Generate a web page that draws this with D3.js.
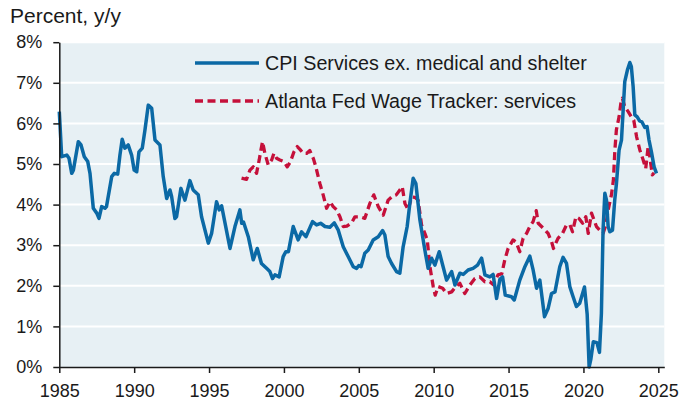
<!DOCTYPE html>
<html>
<head>
<meta charset="utf-8">
<script src="https://cdn.jsdelivr.net/npm/d3@7"></script>
<style>
  body { margin: 0; background: #fff; }
  svg { display: block; font-family: "Liberation Sans", Arial, sans-serif; }
</style>
</head>
<body>
<svg id="chart" width="695" height="403"></svg>
<script>
/* global d3 */

// CPI services ex. medical and shelter, % y/y
var cpiDates = [1985.0, 1985.16, 1985.5, 1985.65, 1985.83, 1985.94, 1986.27, 1986.45, 1986.67, 1986.9,
    1987.05, 1987.27, 1987.5, 1987.65, 1987.83, 1988.05, 1988.15, 1988.5, 1988.67, 1988.9,
    1989.05, 1989.2, 1989.38, 1989.6, 1989.83, 1990.0, 1990.17, 1990.32, 1990.54, 1990.72,
    1990.94, 1991.17, 1991.39, 1991.72, 1991.94, 1992.17, 1992.39, 1992.5, 1992.72, 1992.83,
    1993.12, 1993.39, 1993.72, 1993.94, 1994.28, 1994.5, 1994.95, 1995.17, 1995.5, 1995.68,
    1995.84, 1996.4, 1996.73, 1997.06, 1997.18, 1997.3, 1997.62, 1997.95, 1998.22, 1998.5,
    1998.84, 1999.06, 1999.24, 1999.4, 1999.68, 1999.95, 2000.13, 2000.3, 2000.62, 2000.95,
    2001.18, 2001.47, 2001.91, 2002.18, 2002.45, 2002.74, 2003.07, 2003.36, 2003.63, 2003.96,
    2004.29, 2004.63, 2004.85, 2005.0, 2005.15, 2005.4, 2005.63, 2005.96, 2006.3, 2006.59,
    2006.74, 2006.96, 2007.19, 2007.52, 2007.74, 2007.96, 2008.23, 2008.41, 2008.63, 2008.81,
    2009.08, 2009.41, 2009.63, 2009.86, 2010.08, 2010.37, 2010.63, 2010.86, 2011.2, 2011.42,
    2011.75, 2011.97, 2012.3, 2012.63, 2012.93, 2013.2, 2013.42, 2013.75, 2013.97, 2014.2,
    2014.42, 2014.6, 2014.78, 2015.2, 2015.38, 2015.75, 2016.09, 2016.42, 2016.64, 2016.87,
    2017.09, 2017.4, 2017.64, 2017.87, 2018.1, 2018.42, 2018.64, 2018.87, 2019.09, 2019.31,
    2019.53, 2019.75, 2020.07, 2020.25, 2020.38, 2020.5, 2020.66, 2020.9, 2021.07, 2021.2,
    2021.31, 2021.43, 2021.54, 2021.65, 2021.76, 2021.94, 2022.09, 2022.2, 2022.38, 2022.54,
    2022.76, 2022.94, 2023.1, 2023.2, 2023.32, 2023.43, 2023.59, 2023.75, 2023.9, 2024.1,
    2024.25, 2024.38, 2024.54, 2024.72, 2024.88];
var cpiValues = [6.29, 5.18, 5.22, 5.14, 4.77, 4.85, 5.55, 5.47, 5.18, 5.06,
    4.77, 3.91, 3.79, 3.66, 3.95, 3.91, 3.95, 4.69, 4.77, 4.75,
    5.22, 5.61, 5.39, 5.47, 5.22, 4.85, 4.81, 5.30, 5.39, 5.84,
    6.45, 6.37, 5.59, 5.47, 4.69, 4.15, 4.36, 4.2, 3.66, 3.70,
    4.40, 4.11, 4.59, 4.36, 4.24, 3.70, 3.05, 3.29, 4.07, 3.87,
    3.97, 2.92, 3.46, 3.87, 3.54, 3.57, 3.21, 2.64, 2.92, 2.55,
    2.43, 2.35, 2.18, 2.27, 2.22, 2.72, 2.84, 2.84, 3.46, 3.13,
    3.33, 3.21, 3.58, 3.50, 3.54, 3.46, 3.44, 3.55, 3.37, 2.96,
    2.72, 2.47, 2.43, 2.50, 2.47, 2.80, 2.88, 3.13, 3.21, 3.36,
    3.25, 2.72, 2.55, 2.35, 2.31, 2.96, 3.46, 4.03, 4.65, 4.52,
    3.62, 2.88, 2.43, 2.68, 2.51, 2.84, 2.47, 2.14, 2.35, 2.02,
    2.31, 2.28, 2.39, 2.43, 2.51, 2.68, 2.27, 2.22, 2.28, 1.69,
    2.16, 2.22, 1.77, 1.73, 1.65, 2.14, 2.47, 2.73, 2.39, 1.94,
    2.14, 1.24, 1.44, 1.81, 1.85, 2.47, 2.70, 2.55, 1.98, 1.73,
    1.49, 1.57, 1.97, 1.30, 0.0, 0.2, 0.62, 0.60, 0.36, 1.32,
    3.37, 4.28, 4.11, 3.46, 3.33, 3.37, 4.11, 4.5, 5.34, 5.59,
    7.03, 7.32, 7.50, 7.40, 6.90, 6.21, 6.16, 6.06, 6.04, 5.90,
    5.92, 5.59, 5.30, 4.93, 4.77];

// Atlanta Fed Wage Tracker: services, % y/y
var wageDates = [1997.17, 1997.5, 1997.73, 1997.95, 1998.17, 1998.35, 1998.46, 1998.57, 1998.73, 1998.95,
    1999.18, 1999.33, 1999.51, 1999.73, 2000.0, 2000.22, 2000.44, 2000.67, 2000.89, 2001.07,
    2001.29, 2001.51, 2001.73, 2001.96, 2002.13, 2002.4, 2002.62, 2002.85, 2003.07, 2003.29,
    2003.52, 2003.74, 2003.96, 2004.2, 2004.52, 2004.74, 2005.07, 2005.4, 2005.74, 2006.0,
    2006.3, 2006.63, 2006.96, 2007.26, 2007.5, 2007.74, 2007.9, 2008.08, 2008.3, 2008.52,
    2008.75, 2008.96, 2009.19, 2009.41, 2009.57, 2009.75, 2009.97, 2010.1, 2010.3, 2010.6,
    2010.86, 2011.2, 2011.48, 2011.75, 2012.08, 2012.42, 2012.75, 2013.08, 2013.42, 2013.75,
    2013.97, 2014.3, 2014.55, 2014.75, 2014.97, 2015.3, 2015.5, 2015.75, 2015.97, 2016.2,
    2016.42, 2016.64, 2016.85, 2016.98, 2017.2, 2017.42, 2017.64, 2017.87, 2018.0, 2018.3,
    2018.6, 2018.87, 2019.1, 2019.27, 2019.5, 2019.7, 2019.95, 2020.16, 2020.32, 2020.54,
    2020.87, 2021.09, 2021.31, 2021.5, 2021.65, 2021.87, 2022.0, 2022.1, 2022.2, 2022.38,
    2022.5, 2022.6, 2022.76, 2022.99, 2023.2, 2023.36, 2023.55, 2023.77, 2023.99, 2024.16,
    2024.32, 2024.43, 2024.6, 2024.72];
var wageValues = [4.65, 4.62, 4.85, 4.93, 4.77, 5.10, 5.34, 5.55, 5.26, 4.98,
    5.10, 5.26, 5.14, 5.10, 5.06, 4.93, 5.06, 5.30, 5.43, 5.36,
    5.26, 5.26, 5.33, 5.14, 4.93, 4.52, 4.24, 3.91, 4.07, 3.95,
    3.87, 3.70, 3.46, 3.47, 3.55, 3.70, 3.70, 3.66, 4.03, 4.24,
    3.95, 3.74, 4.11, 4.21, 4.24, 4.36, 4.44, 4.03, 3.87, 4.19,
    4.18, 4.11, 3.50, 3.29, 3.13, 2.47, 1.98, 1.77, 1.98, 1.94,
    1.81, 1.85, 1.98, 2.06, 1.81, 2.02, 2.18, 2.22, 2.10, 2.10,
    2.03, 2.27, 2.30, 2.64, 2.92, 3.13, 3.08, 2.84, 3.17, 3.29,
    3.46, 3.58, 3.85, 3.54, 3.46, 3.38, 3.29, 3.09, 2.92, 3.17,
    3.29, 3.50, 3.50, 3.33, 3.70, 3.66, 3.54, 3.70, 3.29, 3.79,
    3.46, 3.37, 3.29, 3.50, 3.87, 4.24, 4.6, 5.34, 5.84, 6.16,
    6.5, 6.62, 6.41, 6.29, 6.16, 6.08, 5.67, 5.34, 5.10, 4.89,
    5.43, 5.18, 4.73, 4.78];

var xTicks = [1985, 1990, 1995, 2000, 2005, 2010, 2015, 2020, 2025];
var yTicks = [0, 1, 2, 3, 4, 5, 6, 7, 8];
var seriesNames = ["CPI Services ex. medical and shelter", "Atlanta Fed Wage Tracker: services"];

var blue = "#0b69a5";
var red = "#c5103a";
var ink = "#1a1a1a";
var dash = "8,4.5";

var svg = d3.select("#chart");

var x = d3.scaleLinear().domain([1985, 2025.4]).range([59.3, 664.3]);
var y = d3.scaleLinear().domain([0, 8]).range([367, 42.2]);

// plot background
svg.append("rect")
    .attr("x", x.range()[0])
    .attr("y", y(8))
    .attr("width", x.range()[1] - x.range()[0])
    .attr("height", y(0) - y(8))
    .attr("fill", "#e7f0f4");

// gridlines
svg.append("g")
    .selectAll("line")
    .data(yTicks.slice(1))
    .join("line")
    .attr("x1", x.range()[0])
    .attr("x2", x.range()[1])
    .attr("y1", function (d) { return y(d); })
    .attr("y2", function (d) { return y(d); })
    .attr("stroke", "#fff")
    .attr("stroke-width", 2);

var line = function (dates, values) {
    return d3.line()
        .x(function (d, i) { return x(dates[i]); })
        .y(function (d) { return y(d); })(values);
};

svg.append("path")
    .attr("d", line(wageDates, wageValues))
    .attr("fill", "none")
    .attr("stroke", red)
    .attr("stroke-width", 3.3)
    .attr("stroke-dasharray", dash)
    .attr("stroke-linejoin", "round");

svg.append("path")
    .attr("d", line(cpiDates, cpiValues))
    .attr("fill", "none")
    .attr("stroke", blue)
    .attr("stroke-width", 3.5)
    .attr("stroke-linejoin", "round");

// axes
var xAxis = svg.append("g")
    .attr("transform", "translate(0," + y(0) + ")")
    .call(d3.axisBottom(x).tickValues(xTicks).tickSize(6).tickSizeOuter(0).tickFormat(d3.format("d")));
var yAxis = svg.append("g")
    .attr("transform", "translate(" + x.range()[0] + ",0)")
    .call(d3.axisLeft(y).tickValues(yTicks).tickSize(6).tickSizeOuter(0).tickFormat(function (d) { return d + "%"; }));

[xAxis, yAxis].forEach(function (g) {
    g.select(".domain").attr("stroke", ink).attr("stroke-width", 1.5);
    g.selectAll(".tick line").attr("stroke", ink).attr("stroke-width", 1.5);
    g.selectAll(".tick text")
        .attr("fill", ink)
        .style("font-size", "18px")
        .style("font-family", "'Liberation Sans', Arial, sans-serif");
});
xAxis.selectAll(".tick text").attr("dy", "0.71em").attr("y", 17);
yAxis.selectAll(".tick text").attr("x", -17);

// unit label
svg.append("text")
    .attr("x", 10)
    .attr("y", 23)
    .attr("fill", ink)
    .style("font-size", "21px")
    .text("Percent, y/y");

// legend
var legend = svg.append("g");
var legendRows = [
    { name: seriesNames[0], color: blue, dash: null, y: 63 },
    { name: seriesNames[1], color: red, dash: dash, y: 101 }
];
legendRows.forEach(function (r) {
    legend.append("line")
        .attr("x1", 195).attr("x2", 259)
        .attr("y1", r.y).attr("y2", r.y)
        .attr("stroke", r.color)
        .attr("stroke-width", 3.3)
        .attr("stroke-dasharray", r.dash);
    legend.append("text")
        .attr("x", 265)
        .attr("y", r.y)
        .attr("dy", "0.36em")
        .attr("fill", ink)
        .style("font-size", "19.7px")
        .text(r.name);
});
</script>
</body>
</html>
